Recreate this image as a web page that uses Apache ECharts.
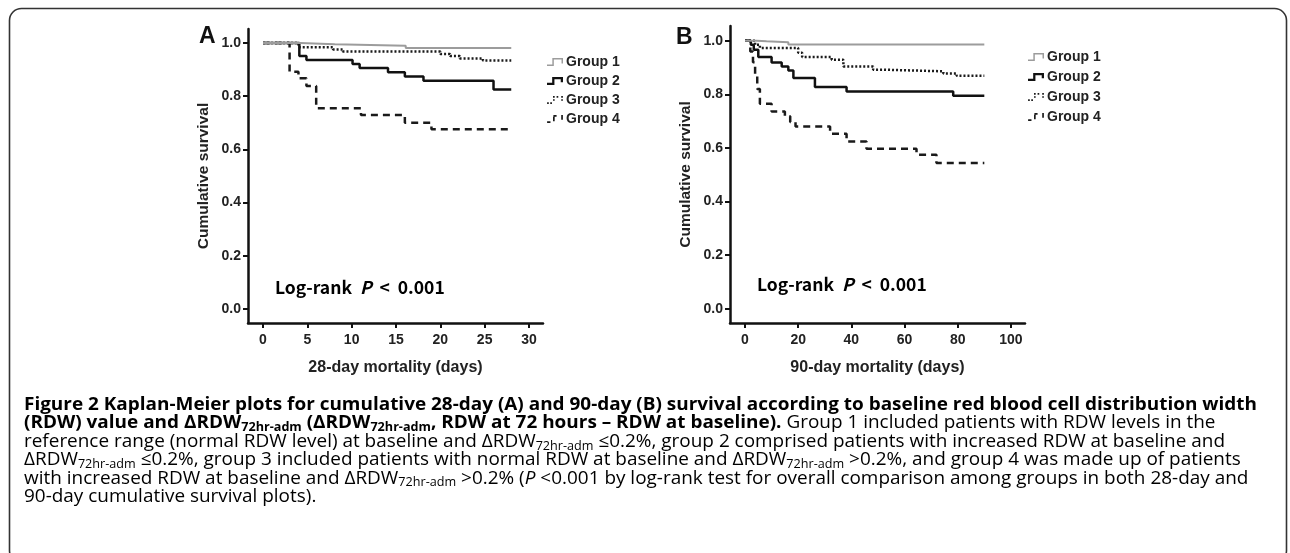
<!DOCTYPE html>
<html><head><meta charset="utf-8">
<script src="https://cdn.jsdelivr.net/npm/echarts@6/dist/echarts.min.js"></script>
<style>html,body{margin:0;padding:0;background:#fff}#c{width:1290px;height:553px}</style>
</head><body><div id="c"></div>
<script>
// ---------- data ----------
const groups = ['Group 1', 'Group 2', 'Group 3', 'Group 4'];
const ticksXA = [0, 5, 10, 15, 20, 25, 30];
const ticksXB = [0, 20, 40, 60, 80, 100];
const ticksY = [0, 0.2, 0.4, 0.6, 0.8, 1.0];

// Panel A: 28-day survival (time in days, cumulative survival)
const a1_t = [0, 4.2, 8.1, 16.1, 28];
const a1_s = [1, 0.995, 0.99, 0.981, 0.981];
const a2_t = [0, 4.1, 4.9, 10.1, 10.9, 14.1, 16.0, 18.1, 26.0, 28];
const a2_s = [1, 0.951, 0.936, 0.921, 0.906, 0.89, 0.874, 0.858, 0.825, 0.825];
const a3_t = [0, 4.0, 7.9, 9.0, 20.0, 21.1, 22.2, 24.8, 28];
const a3_s = [1, 0.984, 0.976, 0.968, 0.959, 0.951, 0.942, 0.934, 0.934];
const a4_t = [0, 3.0, 4.0, 4.9, 6.0, 11.05, 16.0, 19.0, 28];
const a4_s = [1, 0.892, 0.867, 0.838, 0.755, 0.729, 0.70, 0.676, 0.676];

// Panel B: 90-day survival
const b1_t = [0, 4.4, 8.1, 16.3, 90];
const b1_s = [1, 0.998, 0.994, 0.986, 0.986];
const b2_t = [0, 2.2, 3.3, 5.0, 10.0, 13.8, 16.3, 18.2, 26.3, 38.2, 78.3, 90];
const b2_s = [1, 0.985, 0.966, 0.939, 0.919, 0.904, 0.889, 0.861, 0.827, 0.811, 0.795, 0.795];
const b3_t = [0, 3.8, 5.6, 20.0, 21.5, 32.6, 37.0, 48.2, 52.0, 74.6, 79.6, 90];
const b3_s = [1, 0.985, 0.973, 0.955, 0.939, 0.929, 0.904, 0.892, 0.886, 0.878, 0.869, 0.869];
const b4_t = [0, 2.0, 3.0, 3.8, 4.6, 5.6, 10.0, 15.0, 17.0, 19.0, 32.0, 38.2, 45.7, 64.5, 72.0, 90];
const b4_s = [1, 0.96, 0.92, 0.87, 0.82, 0.765, 0.736, 0.718, 0.697, 0.68, 0.653, 0.624, 0.597, 0.575, 0.544, 0.544];

// ---------- styles ----------
const FONT = 'Liberation Sans, Arial, sans-serif';
const styles = [
  { color: '#9c9c9c', width: 2, type: 'solid' },
  { color: '#111111', width: 2.5, type: 'solid' },
  { color: '#1a1a1a', width: 2.5, type: [2, 2] },
  { color: '#1a1a1a', width: 2.5, type: [7, 5] }
];
const icons = [
  'path://M0,6 L5,6 L5,0 L15,0 L15,5 L13.6,5 L13.6,1.4 L6.4,1.4 L6.4,7.4 L0,7.4 Z',
  'path://M0,5.4 L5,5.4 L5,0 L15.5,0 L15.5,5 L13.3,5 L13.3,2.2 L7.2,2.2 L7.2,7.6 L0,7.6 Z',
  'path://M0,6 L1.6,6 L1.6,7.6 L0,7.6 Z M3,6 L4.6,6 L4.6,7.6 L3,7.6 Z M5.6,3 L7.2,3 L7.2,4.6 L5.6,4.6 Z M5.6,0 L7.2,0 L7.2,1.6 L5.6,1.6 Z M9,0 L10.6,0 L10.6,1.6 L9,1.6 Z M13.4,0 L15,0 L15,1.6 L13.4,1.6 Z M13.4,3 L15,3 L15,4.6 L13.4,4.6 Z',
  'path://M0,6 L3.2,6 L3.2,7.6 L0,7.6 Z M5.6,1.6 L7.2,1.6 L7.2,6 L5.6,6 Z M6,0 L9,0 L9,1.6 L6,1.6 Z M13.4,0 L15,0 L15,4.6 L13.4,4.6 Z'
];

function pairs(t, s) { return t.map((v, i) => [v, s[i]]); }
const dataA = [pairs(a1_t, a1_s), pairs(a2_t, a2_s), pairs(a3_t, a3_s), pairs(a4_t, a4_s)];
const dataB = [pairs(b1_t, b1_s), pairs(b2_t, b2_s), pairs(b3_t, b3_s), pairs(b4_t, b4_s)];

function mkSeries(data, idx) {
  return data.map((d, i) => ({
    type: 'line', name: groups[i], xAxisIndex: idx, yAxisIndex: idx,
    data: d, step: 'end', symbol: 'none', showSymbol: false, silent: true,
    color: styles[i].color,
    lineStyle: { color: styles[i].color, width: styles[i].width, type: styles[i].type, cap: 'butt' },
    z: 10 - i
  }));
}

function xAxisCfg(gi, min, max, ticks, name) {
  return {
    type: 'value', gridIndex: gi, min: min, max: max, name: name,
    nameLocation: 'middle', nameGap: 37,
    nameTextStyle: { fontFamily: FONT, fontWeight: 'bold', fontSize: 16, color: '#222' },
    axisLine: { show: true, onZero: false, lineStyle: { color: '#111', width: 2.5 } },
    axisTick: { show: true, length: 5, lineStyle: { color: '#111', width: 2 }, customValues: ticks },
    axisLabel: { customValues: ticks, margin: 10, fontFamily: FONT, fontWeight: 'bold', fontSize: 14, color: '#222' },
    splitLine: { show: false }
  };
}
function yAxisCfg(gi, min, max) {
  return {
    type: 'value', gridIndex: gi, min: min, max: max, name: 'Cumulative survival',
    nameLocation: 'middle', nameGap: 36,
    nameTextStyle: { fontFamily: FONT, fontWeight: 'bold', fontSize: 15.5, color: '#222' },
    axisLine: { show: true, onZero: false, lineStyle: { color: '#111', width: 2.5 } },
    axisTick: { show: true, length: 5, lineStyle: { color: '#111', width: 2 }, customValues: ticksY },
    axisLabel: { customValues: ticksY, margin: 7, fontFamily: FONT, fontWeight: 'bold', fontSize: 14, color: '#222',
      formatter: v => Number(v).toFixed(1) },
    splitLine: { show: false }
  };
}
function legendCfg(left, top, gap) {
  return {
    orient: 'vertical', left: left, top: top, itemWidth: 16, itemHeight: 8, itemGap: gap,
    selectedMode: false, padding: 0,
    textStyle: { fontFamily: FONT, fontWeight: 'bold', fontSize: 14, color: '#222', lineHeight: 14, padding: [0, 0, 0, -2] },
    data: groups.map((g, i) => ({ name: g, icon: icons[i], itemStyle: { color: styles[i].color, borderWidth: 0 } }))
  };
}

// ---------- caption ----------
const CAP = '"Open Sans", "Noto Sans", sans-serif';
const CAPSIZE = 18, SUBSIZE = 12;
const capFonts = {
  b: 'bold ' + CAPSIZE + 'px ' + CAP, bs: 'bold ' + SUBSIZE + 'px ' + CAP,
  r: CAPSIZE + 'px ' + CAP, rs: SUBSIZE + 'px ' + CAP, ri: 'italic ' + CAPSIZE + 'px ' + CAP
};
const capLines = [
  [['b', 'Figure 2 Kaplan-Meier plots for cumulative 28-day (A) and 90-day (B) survival according to baseline red blood cell distribution width']],
  [['b', '(RDW) value and ΔRDW'], ['bs', '72hr-adm'], ['b', ' (ΔRDW'], ['bs', '72hr-adm'], ['b', ', RDW at 72 hours – RDW at baseline).'], ['r', ' Group 1 included patients with RDW levels in the']],
  [['r', 'reference range (normal RDW level) at baseline and ΔRDW'], ['rs', '72hr-adm'], ['r', ' ≤0.2%, group 2 comprised patients with increased RDW at baseline and']],
  [['r', 'ΔRDW'], ['rs', '72hr-adm'], ['r', ' ≤0.2%, group 3 included patients with normal RDW at baseline and ΔRDW'], ['rs', '72hr-adm'], ['r', ' >0.2%, and group 4 was made up of patients']],
  [['r', 'with increased RDW at baseline and ΔRDW'], ['rs', '72hr-adm'], ['r', ' >0.2% ('], ['ri', 'P'], ['r', ' <0.001 by log-rank test for overall comparison among groups in both 28-day and']],
  [['r', '90-day cumulative survival plots).']]
];
const cv = document.createElement('canvas').getContext('2d');
function measure(segs) {
  let w = 0;
  segs.forEach(s => { cv.font = capFonts[s[0]]; w += cv.measureText(s[1]).width; });
  return w;
}
const capScale = (1257 - 24) / measure(capLines[0]);
const BOLDC = '#231f20', REGC = '#474747';
const capRich = {
  b: { fontFamily: CAP, fontWeight: 'bold', fontSize: CAPSIZE, color: BOLDC, lineHeight: 19 },
  bs: { fontFamily: CAP, fontWeight: 'bold', fontSize: SUBSIZE, color: BOLDC, lineHeight: 19, padding: [9, 0, 0, 0] },
  r: { fontFamily: CAP, fontSize: CAPSIZE, color: REGC, lineHeight: 19 },
  rs: { fontFamily: CAP, fontSize: SUBSIZE, color: REGC, lineHeight: 19, padding: [9, 0, 0, 0] },
  ri: { fontFamily: CAP, fontStyle: 'italic', fontSize: CAPSIZE, color: REGC, lineHeight: 19 }
};
const capGraphics = capLines.map((segs, i) => ({
  type: 'text', x: 24, y: 405 + i * 18.35, scaleX: capScale, silent: true,
  style: { text: segs.map(s => '{' + s[0] + '|' + s[1] + '}').join(''), rich: capRich, verticalAlign: 'middle', align: 'left' }
}));

const LRF = '"Noto Sans CJK KR", "Noto Sans", sans-serif';
const lrRich = {
  a: { fontFamily: LRF, fontSize: 17.5, fontWeight: 'bold', color: '#1a1a1a' },
  p: { fontFamily: LRF, fontSize: 17.5, fontWeight: 'bold', fontStyle: 'italic', color: '#1a1a1a' }
};
const lrText = '{a|Log-rank  }{p|P}{a|  <  0.001}';

const chart = echarts.init(document.getElementById('c'), null, { renderer: 'canvas' });
chart.setOption({
  animation: false,
  backgroundColor: '#ffffff',
  grid: [
    { left: 248, top: 29, width: 295, height: 294 },
    { left: 730, top: 26, width: 295, height: 297 }
  ],
  xAxis: [xAxisCfg(0, -1.69, 31.58, ticksXA, '28-day mortality (days)'), xAxisCfg(1, -5.64, 105.3, ticksXB, '90-day mortality (days)')],
  yAxis: [yAxisCfg(0, -0.0526, 1.0526), yAxisCfg(1, -0.053, 1.055)],
  legend: [legendCfg(547, 55, 5), legendCfg(1028, 50, 6)],
  series: mkSeries(dataA, 0).concat(mkSeries(dataB, 1)),
  graphic: [
    { type: 'rect', silent: true, shape: { x: 9.5, y: 8.5, width: 1277, height: 554, r: 12 },
      style: { fill: 'none', stroke: '#333', lineWidth: 1.6 } },
    { type: 'text', x: 199, y: 37, silent: true, style: { text: 'A', fontFamily: FONT, fontWeight: 'bold', fontSize: 23, fill: '#111', verticalAlign: 'middle' } },
    { type: 'text', x: 676, y: 38, silent: true, style: { text: 'B', fontFamily: FONT, fontWeight: 'bold', fontSize: 23, fill: '#111', verticalAlign: 'middle' } },
    { type: 'text', x: 275, y: 287, silent: true, style: { text: lrText, rich: lrRich, verticalAlign: 'middle' } },
    { type: 'text', x: 757, y: 284, silent: true, style: { text: lrText, rich: lrRich, verticalAlign: 'middle' } }
  ].concat(capGraphics)
});
</script>
</body></html>
